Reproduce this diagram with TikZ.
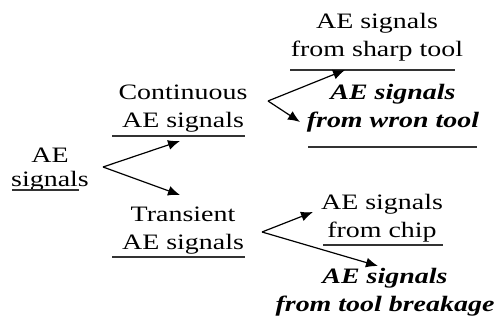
\documentclass[tikz,border=0pt]{standalone}
\usepackage{fontspec}
\setmainfont{Liberation Serif}[FakeStretch=1.27]
\usetikzlibrary{arrows.meta}
\begin{document}
\begin{tikzpicture}[x=1pt,y=-1pt,
  lbl/.style={inner sep=0pt, align=center, anchor=base, font=\fontsize{22}{28}\selectfont},
  emph/.style={lbl, font=\fontsize{22}{28}\selectfont\bfseries\itshape},
  link/.style={line width=1.2pt, -{Latex[length=12pt,width=10pt]}},
  rule/.style={line width=1.1pt, black!80}]
\useasboundingbox (0,0) rectangle (499,323);

% text blocks (anchored at the baseline of their last line)
\node[lbl, font=\fontsize{22}{24}\selectfont] (root) at (50,187) {AE\\signals};
\node[lbl] (cont)  at (183,128) {Continuous\\AE signals};
\node[lbl] (trans) at (183,250) {Transient\\AE signals};
\node[lbl] (sharp) at (377,57)  {AE signals\\from sharp tool};
\node[emph] (wron) at (393,128) {AE signals\\from wron tool};
\node[lbl] (chip)  at (382,238) {AE signals\\from chip};
\node[emph] (brk)  at (385,312) {AE signals\\from tool breakage};

% underlines
\draw[rule] (12,190) -- (79,190);
\draw[rule] (112,136) -- (245,136);
\draw[rule] (112,257) -- (245,257);
\draw[rule] (290,70) -- (455,70);
\draw[rule] (308,147) -- (477,147);
\draw[rule] (323,245) -- (443,245);

% branch points and arrow tips
\coordinate (v0) at (103,167);
\coordinate (t1) at (180,141);
\coordinate (t2) at (180,195);
\coordinate (v1) at (268,101);
\coordinate (t3) at (345,70);
\coordinate (t4) at (300,122);
\coordinate (v2) at (262,232);
\coordinate (t5) at (313,212);
\coordinate (t6) at (378,266);

\draw[link] (v0) -- (t1);
\draw[link] (v0) -- (t2);
\draw[link] (v1) -- (t3);
\draw[link] (v1) -- (t4);
\draw[link] (v2) -- (t5);
\draw[link] (v2) -- (t6);
\end{tikzpicture}
\end{document}
